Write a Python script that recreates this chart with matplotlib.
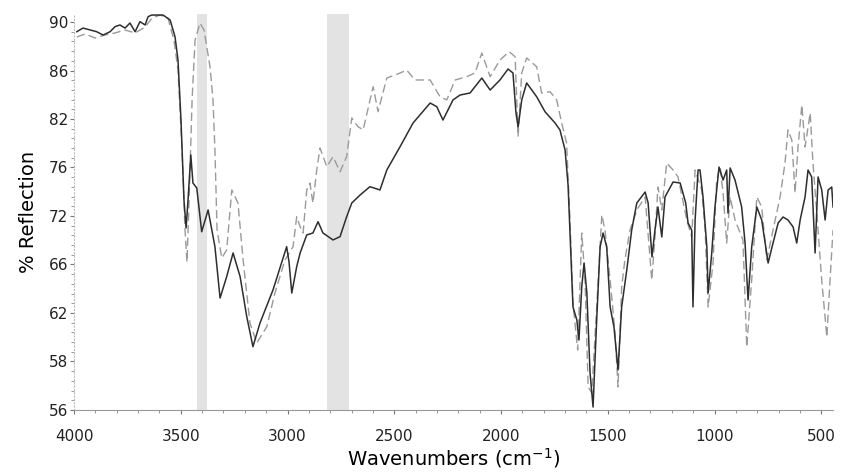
import matplotlib
matplotlib.use("Agg")
import matplotlib.pyplot as plt
import numpy as np
from matplotlib.ticker import MultipleLocator, AutoMinorLocator

# spectrum 1 (solid, dark)
wn_solid = [3987, 3958, 3925, 3894, 3864, 3831, 3808, 3785, 3761, 3738, 3714, 3691, 3667, 3653,
            3636, 3613, 3583, 3550, 3527, 3513, 3499, 3485, 3475, 3466, 3453, 3443, 3425, 3402,
            3372, 3340, 3316, 3285, 3255, 3222, 3191, 3162, 3129, 3068, 3004, 2993, 2980, 2957,
            2941, 2910, 2881, 2857, 2834, 2787, 2754, 2723, 2699, 2660, 2614, 2567, 2535, 2473,
            2412, 2332, 2301, 2272, 2225, 2192, 2145, 2090, 2051, 2005, 1967, 1944, 1930, 1920,
            1903, 1880, 1833, 1794, 1747, 1724, 1700, 1686, 1672, 1663, 1645, 1635, 1622, 1611,
            1598, 1583, 1569, 1552, 1536, 1522, 1505, 1489, 1471, 1452, 1435, 1411, 1388, 1364,
            1325, 1311, 1293, 1279, 1265, 1247, 1232, 1194, 1161, 1135, 1124, 1107, 1101, 1091,
            1077, 1068, 1054, 1036, 1030, 1013, 998, 979, 960, 943, 937, 927, 904, 873, 857, 843,
            826, 802, 779, 763, 749, 726, 702, 679, 656, 632, 615, 599, 576, 562, 545, 529, 515,
            498, 482, 468, 451, 445]
refl_solid = [89.15, 89.47, 89.30, 89.15, 88.86, 89.15, 89.59, 89.74, 89.47, 89.91, 89.15, 90.03,
              89.74, 90.47, 90.61, 90.61, 90.61, 90.18, 88.71, 86.67, 81.41, 74.40, 71.95, 74.40,
              78.35, 75.89, 75.45, 71.62, 73.53, 70.31, 65.81, 67.68, 69.76, 67.68, 64.18, 61.55,
              63.62, 66.52, 70.31, 68.97, 66.25, 68.56, 69.76, 71.34, 71.51, 72.50, 71.51, 70.90,
              71.19, 72.94, 74.14, 74.84, 75.57, 75.28, 77.03, 79.07, 81.15, 82.90, 82.58, 81.41,
              83.17, 83.60, 83.78, 85.09, 84.04, 84.92, 85.88, 85.53, 82.03, 80.80, 83.17, 84.66,
              83.45, 82.14, 81.15, 80.54, 78.78, 75.72, 69.14, 65.03, 63.89, 62.13, 66.78, 68.88,
              66.25, 59.24, 56.26, 63.89, 70.28, 71.51, 70.28, 65.03, 63.27, 59.51, 65.03, 68.27,
              71.77, 74.14, 75.10, 74.14, 69.41, 71.77, 73.79, 71.16, 74.67, 75.98, 75.89, 74.14,
              72.39, 71.77, 65.03, 72.65, 77.03, 77.03, 74.67, 70.28, 66.25, 69.76, 73.79, 77.29,
              76.15, 77.03, 73.26, 77.21, 76.15, 73.79, 70.63, 65.64, 70.28, 73.79, 72.65, 70.63,
              68.88, 70.63, 72.39, 72.91, 72.65, 72.04, 70.63, 72.65, 74.67, 77.03, 76.42, 69.76,
              76.42, 75.28, 72.65, 75.28, 75.54, 73.79]

# spectrum 2 (dashed, grey)
wn_dash = [3987, 3948, 3902, 3855, 3808, 3761, 3714, 3667, 3635, 3597, 3560, 3532, 3513, 3494,
           3480, 3471, 3461, 3447, 3433, 3410, 3391, 3363, 3349, 3340, 3330, 3308, 3285, 3261,
           3232, 3208, 3176, 3144, 3097, 3059, 3012, 2974, 2957, 2941, 2927, 2910, 2895, 2881,
           2863, 2848, 2816, 2787, 2754, 2723, 2699, 2670, 2646, 2599, 2576, 2535, 2473, 2442,
           2403, 2332, 2286, 2254, 2215, 2161, 2122, 2090, 2051, 2005, 1962, 1934, 1920, 1903,
           1880, 1833, 1810, 1770, 1739, 1716, 1693, 1677, 1663, 1641, 1622, 1607, 1592, 1575,
           1552, 1528, 1513, 1489, 1466, 1452, 1435, 1420, 1396, 1364, 1325, 1294, 1279, 1265,
           1247, 1224, 1194, 1171, 1130, 1107, 1091, 1060, 1044, 1030, 1007, 990, 974, 960, 943,
           927, 904, 867, 849, 826, 802, 779, 755, 726, 693, 670, 656, 638, 623, 609, 591, 576,
           552, 539, 521, 498, 474, 459, 445]
refl_dash = [88.69, 88.95, 88.60, 88.86, 89.04, 89.30, 89.04, 89.56, 90.35, 90.61, 90.35, 88.42,
             85.79, 78.78, 71.77, 68.97, 74.40, 83.17, 88.42, 89.91, 89.30, 86.08, 83.17, 78.78,
             71.77, 69.32, 70.02, 75.28, 74.14, 69.14, 63.62, 61.87, 63.30, 66.25, 69.14, 70.31,
             72.94, 72.06, 71.51, 75.28, 75.89, 74.14, 77.03, 78.96, 77.32, 78.20, 76.88, 78.20,
             81.59, 80.83, 80.54, 84.33, 82.14, 85.09, 85.53, 85.79, 84.92, 84.92, 83.45, 83.17,
             84.92, 85.21, 85.53, 87.28, 85.21, 86.67, 87.40, 86.96, 79.95, 85.53, 86.85, 86.08,
             83.78, 83.89, 83.17, 81.15, 79.40, 72.65, 65.38, 61.26, 71.51, 67.65, 58.02, 57.49,
             65.03, 73.09, 71.77, 67.39, 62.75, 58.02, 66.78, 69.14, 71.77, 73.53, 74.67, 67.39,
             71.16, 75.54, 73.53, 77.64, 77.03, 76.42, 72.65, 71.16, 77.03, 75.28, 71.77, 65.03,
             68.88, 76.15, 77.29, 75.02, 70.63, 74.67, 72.65, 70.90, 61.52, 67.39, 74.67, 73.79,
             69.14, 71.77, 74.67, 77.64, 80.54, 79.66, 75.02, 79.05, 82.73, 79.05, 82.03, 77.64,
             73.26, 67.39, 62.40, 67.39, 71.77]

# shaded bands (wavenumber ranges)
bands = [(3424, 3377), (2815, 2712)]

# y tick labels as printed on the original
ytick_labels = ["56", "58", "62", "66", "72", "76", "82", "86", "90"]

fig = plt.figure(figsize=(8.44, 4.72), dpi=100)
ax = fig.add_axes([0.0877, 0.1314, 0.8993, 0.8389])

for hi, lo in bands:
    ax.axvspan(lo, hi, color="#e3e3e3", lw=0, zorder=0)

ax.plot(wn_dash, refl_dash, color="#9a9a9a", lw=1.0, ls=(0, (6, 3)), zorder=2)
ax.plot(wn_solid, refl_solid, color="#2e2e2e", lw=1.1, zorder=3)

ax.set_xlim(4000, 445)
ax.set_ylim(56, 90.7)

ax.set_xticks([4000, 3500, 3000, 2500, 2000, 1500, 1000, 500])
ax.xaxis.set_minor_locator(MultipleLocator(100))
ax.set_yticks(np.linspace(56, 90, 9))
ax.set_yticklabels(ytick_labels)
ax.yaxis.set_minor_locator(AutoMinorLocator(5))

for s in ["top", "right"]:
    ax.spines[s].set_visible(False)
ax.spines["left"].set_color("#bbbbbb")
ax.spines["left"].set_linestyle((0, (1, 2)))
ax.spines["bottom"].set_color("#999999")

ax.tick_params(axis="x", which="major", length=3, color="#777777", pad=11, labelsize=11,
               labelcolor="#222222")
ax.tick_params(axis="x", which="minor", length=2, color="#888888")
ax.tick_params(axis="y", which="major", length=3, color="#777777", pad=1, labelsize=11,
               labelcolor="#222222")
ax.tick_params(axis="y", which="minor", length=2, color="#888888")

ax.set_xlabel("Wavenumbers (cm$^{-1}$)", fontsize=14, labelpad=1)
ax.set_ylabel("% Reflection", fontsize=14, labelpad=8)

fig.savefig("out.png", dpi=100)
